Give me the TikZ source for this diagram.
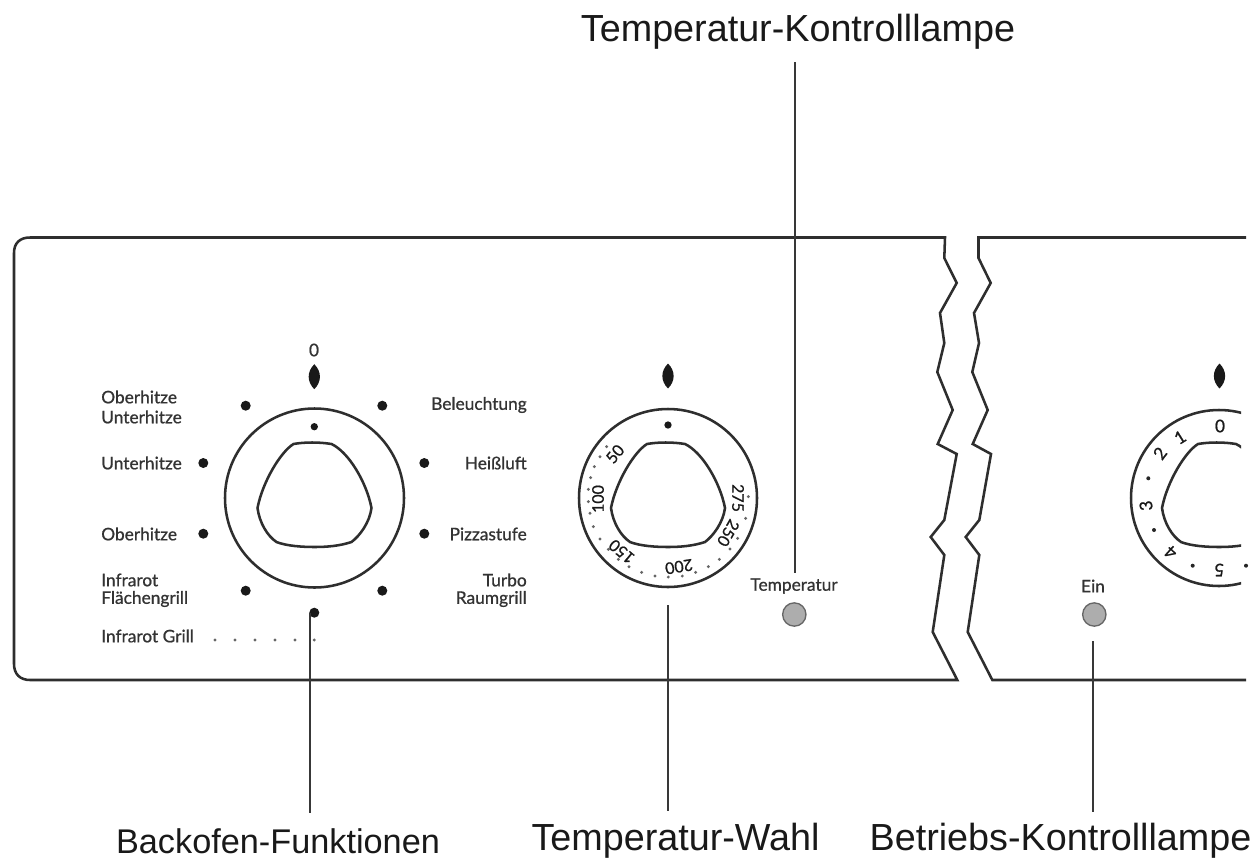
\documentclass[tikz,border=0pt]{standalone}
\usepackage{fontspec}
\setmainfont{Liberation Sans}
\newfontfamily\panelfont[FakeBold=0.8]{Lato}
\tikzset{
  outline/.style={line width=1.9pt,draw=black!82},
  leader/.style={line width=1.3pt,draw=black!78},
  biglabel/.style={font=\fontsize{28.3}{32}\selectfont,text=black!90,inner sep=0pt},
  panellabel/.style={font=\panelfont\fontsize{13}{15}\selectfont,text=black!80,inner sep=0pt},
  ticklabel/.style={font=\panelfont\fontsize{12}{14}\selectfont,text=black!90,inner sep=0pt},
  blob/.style={circle,fill=black!90,inner sep=0pt,minimum size=7.5pt},
  smalldot/.style={circle,fill=black!60,inner sep=0pt,minimum size=2.4pt},
  lamp/.style={circle,draw=black!60,line width=1pt,fill=black!32,inner sep=0pt,minimum size=17.5pt},
}
\newcommand{\grip}{(-21,-54) .. controls (-10,-56) and (5,-56) .. (17,-54)
  .. controls (34,-46) and (52,-16) .. (57,10)
  .. controls (55,25) and (45,38) .. (37,44)
  .. controls (25,48) and (12,49) .. (0,49)
  .. controls (-12,49) and (-28,48) .. (-38,44)
  .. controls (-47,38) and (-55,25) .. (-57,10)
  .. controls (-52,-16) and (-34,-46) .. (-21,-54) -- cycle}
\newcommand{\lens}[2]{\fill[black!90,shift={(#1,#2)}] (0,-12.5) .. controls (7.5,-5) and (7.5,5) .. (0,12.5) .. controls (-7.5,5) and (-7.5,-5) .. (0,-12.5) -- cycle;}
\begin{document}
\begin{tikzpicture}[x=0.75pt,y=-0.75pt]
\useasboundingbox (0,0) rectangle (1256,864);
\fill[white] (0,0) rectangle (1256,864);
% panel, left part
\draw[outline] (945,237.5) -- (30,237.5) .. controls (20,237.5) and (14,243) .. (14,253) -- (14,664) .. controls (14,674) and (20,680) .. (30,680)
  -- (957.3,680) -- (932.7,632) -- (944.3,555) -- (930.7,537) -- (944.3,520) -- (956.7,454) -- (937.7,444) -- (952.7,410) -- (937.3,372) -- (944.3,343) -- (940,313) -- (956.7,283) -- (944.3,258) -- cycle;
% panel, right part
\draw[outline] (1246,237.5) -- (978.5,237.5) -- (978.5,258) -- (990.7,283) -- (974,313) -- (979,343) -- (972.3,372) -- (987.7,410) -- (972.7,444) -- (991,454) -- (979.3,520) -- (965.7,537) -- (979.3,555) -- (967.7,632) -- (992.3,680) -- (1246,680);
% knob 1
\begin{scope}[shift={(314.5,498)}]
\draw[outline] (0,0) circle[radius=89.5];
\draw[outline] \grip;
\end{scope}
\lens{314.3}{376.7}
\node[blob,minimum size=5.5pt] (k1mark) at (314.3,426.7) {};
\foreach \n/\px/\py in {a/245.7/405.7,b/382.3/405.7,c/203.3/463,d/424.3/463,e/203.3/533.7,f/424.3/533.7,g/245.7/590.7,h/382.3/590.7,i/314.3/612.7}
  \node[blob] (pos\n) at (\px,\py) {};
\foreach \px in {215,235,255,275,295,314.3}
  \node[smalldot] at (\px,640) {};
\node[panellabel] (zero) at (314,350) {0};
\node[panellabel,anchor=west] (l1) at (101,397) {Oberhitze};
\node[panellabel,anchor=west] (l2) at (101,417) {Unterhitze};
\node[panellabel,anchor=west] (l3) at (101,463) {Unterhitze};
\node[panellabel,anchor=west] (l4) at (101,534) {Oberhitze};
\node[panellabel,anchor=west] (l5) at (101,580) {Infrarot};
\node[panellabel,anchor=west] (l6) at (101,599) {Flächengrill};
\node[panellabel,anchor=west] (l7) at (101,636) {Infrarot Grill};
\node[panellabel,anchor=east] (r1) at (527,405) {Beleuchtung};
\node[panellabel,anchor=east] (r2) at (527,463) {Heißluft};
\node[panellabel,anchor=east] (r3) at (527,534) {Pizzastufe};
\node[panellabel,anchor=east] (r4) at (527,580) {Turbo};
\node[panellabel,anchor=east] (r5) at (527,599) {Raumgrill};
% knob 2
\begin{scope}[shift={(668,498)}]
\draw[outline] (0,0) circle[radius=89];
\draw[outline] \grip;
\end{scope}
\lens{668}{376}
\node[blob,minimum size=5.5pt] (k2mark) at (668,425) {};
\foreach \zx/\zy in {140/290,120/320,103/350,92/383,85/418,85/455,90/490,100/530,120/567,145/598,175/628,207/650,245/667,285/678,325/681,367/678,407/667,445/650,478/628,510/597,533/565,557/505,565/440}
  \node[smalldot] at ({560+\zx/3},{350+\zy/3}) {};
\node[ticklabel,rotate=50] (t50) at (615,454) {50};
\node[ticklabel,rotate=90] (t100) at (598,499) {100};
\node[ticklabel,rotate=140] (t150) at (621.7,551.7) {150};
\node[ticklabel,rotate=189] (t200) at (679,566.7) {200};
\node[ticklabel,rotate=240] (t250) at (728.3,533) {250};
\node[ticklabel,rotate=270] (t275) at (738,498) {275};
% knob 3
\begin{scope}
\clip (1100,400) rectangle (1241,600);
\begin{scope}[shift={(1219,498)}]
\draw[outline] (0,0) circle[radius=88];
\draw[outline] \grip;
\end{scope}
\end{scope}
\lens{1219.5}{376}
\node[ticklabel,font=\panelfont\fontsize{13}{15}\selectfont] (d0) at (1220,426) {0};
\node[ticklabel,font=\panelfont\fontsize{13}{15}\selectfont,rotate=32] (d1) at (1180,437.3) {1};
\node[ticklabel,font=\panelfont\fontsize{13}{15}\selectfont,rotate=53] (d2) at (1160,453.3) {2};
\node[ticklabel,font=\panelfont\fontsize{13}{15}\selectfont,rotate=96] (d3) at (1146,505.7) {3};
\node[ticklabel,font=\panelfont\fontsize{13}{15}\selectfont,rotate=138] (d4) at (1170.7,552.3) {4};
\node[ticklabel,font=\panelfont\fontsize{13}{15}\selectfont,rotate=180] (d5) at (1219.3,570) {5};
\foreach \px/\py in {1148.3/478.3,1154/530,1192.7/565.7,1246/565.7}
  \node[smalldot,fill=black!85,minimum size=3pt] at (\px,\py) {};
% lamps
\node[lamp] (lampT) at (794.3,614.5) {};
\node[lamp] (lampE) at (1094.3,614.5) {};
\node[panellabel] (tempt) at (794,586) {Temperatur};
\node[panellabel] (eint) at (1093,586) {Ein};
% call-outs
\node[biglabel] (capT) at (798,32) {Temperatur-Kontrolllampe};
\node[biglabel,font=\fontsize{25.7}{30}\selectfont] (capB) at (278,841) {Backofen-Funktionen};
\node[biglabel] (capW) at (675.5,841) {Temperatur-Wahl};
\node[biglabel] (capE) at (1060.5,841) {Betriebs-Kontrolllampe};
\coordinate (tTop) at (795,62);
\coordinate (tEnd) at (795,573);
\coordinate (bTop) at (310,613);
\coordinate (bEnd) at (310,813);
\coordinate (wTop) at (668,605);
\coordinate (wEnd) at (668,811);
\coordinate (eTop) at (1093,641);
\coordinate (eEnd) at (1093,812);
\draw[leader] (tTop) -- (tEnd);
\draw[leader] (bTop) -- (bEnd);
\draw[leader] (wTop) -- (wEnd);
\draw[leader] (eTop) -- (eEnd);
\end{tikzpicture}
\end{document}
